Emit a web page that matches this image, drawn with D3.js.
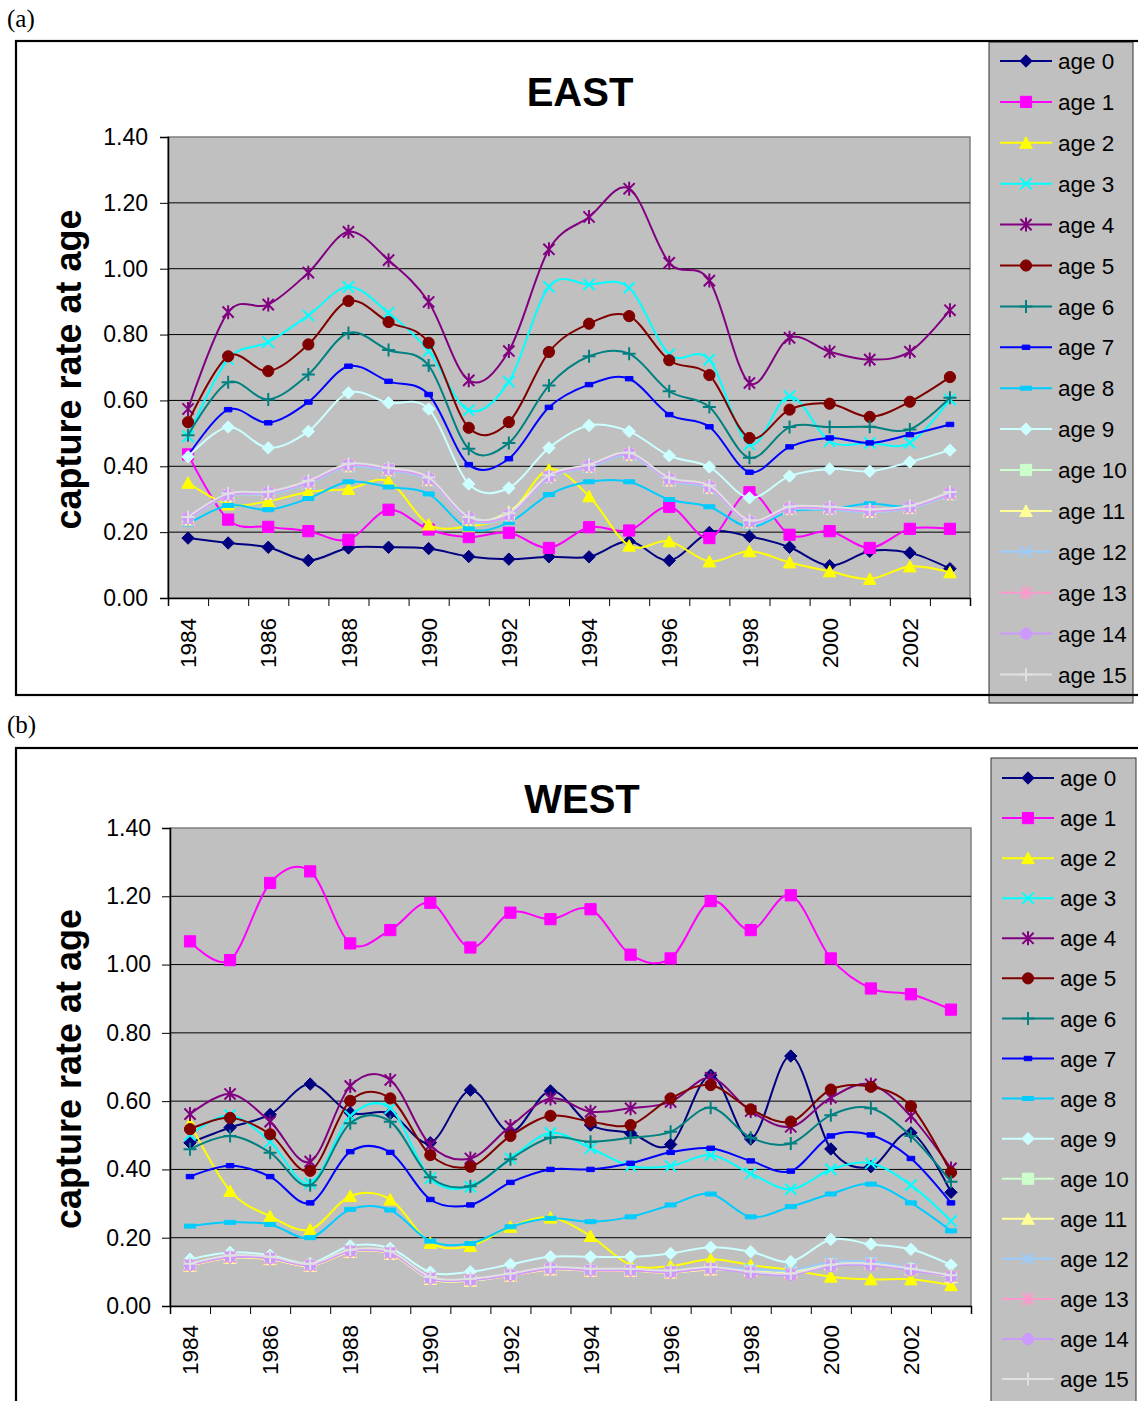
<!DOCTYPE html>
<html>
<head>
<meta charset="utf-8">
<script src="https://cdn.jsdelivr.net/npm/d3@7"></script>
<style>
  body { margin: 0; background: #fff; }
  svg { display: block; }
  text { font-family: "Liberation Sans", Arial, sans-serif; fill: #000; }
</style>
</head>
<body>
<svg id="chart" width="1138" height="1401"></svg>
<script>
// categories and labels
const years = [1984, 1985, 1986, 1987, 1988, 1989, 1990, 1991, 1992, 1993,
               1994, 1995, 1996, 1997, 1998, 1999, 2000, 2001, 2002, 2003]
const yTicks = [0, 0.2, 0.4, 0.6, 0.8, 1.0, 1.2, 1.4]
const ageNames = ["age 0", "age 1", "age 2", "age 3", "age 4", "age 5", "age 6", "age 7",
                  "age 8", "age 9", "age 10", "age 11", "age 12", "age 13", "age 14", "age 15"]

// EAST - capture rate at age
const east0 = [0.182, 0.167, 0.154, 0.114, 0.152, 0.154, 0.150, 0.126, 0.118, 0.125, 0.125, 0.172, 0.114, 0.199, 0.187, 0.154, 0.098, 0.142, 0.137, 0.089]
const east1 = [0.436, 0.238, 0.216, 0.203, 0.177, 0.268, 0.208, 0.185, 0.198, 0.152, 0.215, 0.205, 0.277, 0.182, 0.321, 0.192, 0.203, 0.152, 0.210, 0.210]
const east2 = [0.350, 0.284, 0.294, 0.322, 0.331, 0.354, 0.223, 0.218, 0.253, 0.390, 0.309, 0.159, 0.172, 0.111, 0.142, 0.108, 0.081, 0.058, 0.096, 0.078]
const east3 = [0.491, 0.725, 0.777, 0.858, 0.945, 0.866, 0.750, 0.570, 0.657, 0.945, 0.952, 0.942, 0.740, 0.724, 0.466, 0.613, 0.476, 0.471, 0.471, 0.603]
const east4 = [0.574, 0.868, 0.891, 0.988, 1.112, 1.026, 0.899, 0.661, 0.750, 1.059, 1.157, 1.243, 1.018, 0.964, 0.653, 0.790, 0.748, 0.724, 0.748, 0.874]
const east5 = [0.534, 0.734, 0.689, 0.770, 0.902, 0.838, 0.775, 0.517, 0.534, 0.747, 0.833, 0.856, 0.722, 0.677, 0.486, 0.572, 0.590, 0.550, 0.596, 0.671]
const east6 = [0.494, 0.655, 0.603, 0.679, 0.805, 0.753, 0.706, 0.453, 0.471, 0.645, 0.734, 0.742, 0.628, 0.580, 0.426, 0.519, 0.519, 0.520, 0.512, 0.608]
const east7 = [0.432, 0.572, 0.532, 0.595, 0.704, 0.658, 0.618, 0.405, 0.423, 0.579, 0.648, 0.666, 0.557, 0.520, 0.382, 0.459, 0.486, 0.471, 0.496, 0.527]
const east8 = [0.225, 0.281, 0.268, 0.302, 0.353, 0.337, 0.316, 0.210, 0.229, 0.314, 0.353, 0.353, 0.299, 0.277, 0.216, 0.263, 0.270, 0.286, 0.278, 0.316]
const east9 = [0.429, 0.519, 0.456, 0.506, 0.623, 0.593, 0.574, 0.346, 0.334, 0.456, 0.524, 0.506, 0.432, 0.398, 0.304, 0.370, 0.392, 0.385, 0.413, 0.449]
const east10 = [0.240, 0.312, 0.318, 0.350, 0.402, 0.390, 0.360, 0.240, 0.251, 0.367, 0.399, 0.436, 0.359, 0.336, 0.230, 0.271, 0.271, 0.263, 0.274, 0.316]
const east11 = [0.238, 0.310, 0.316, 0.349, 0.400, 0.388, 0.358, 0.238, 0.262, 0.372, 0.398, 0.434, 0.357, 0.334, 0.229, 0.270, 0.272, 0.262, 0.273, 0.315]
const east12 = [0.236, 0.309, 0.315, 0.347, 0.399, 0.386, 0.357, 0.236, 0.249, 0.364, 0.396, 0.433, 0.356, 0.333, 0.228, 0.268, 0.268, 0.261, 0.272, 0.313]
const east13 = [0.241, 0.312, 0.319, 0.351, 0.403, 0.390, 0.361, 0.241, 0.252, 0.368, 0.400, 0.437, 0.360, 0.337, 0.231, 0.272, 0.272, 0.264, 0.275, 0.317]
const east14 = [0.243, 0.314, 0.321, 0.353, 0.405, 0.392, 0.363, 0.243, 0.254, 0.370, 0.402, 0.439, 0.362, 0.339, 0.233, 0.274, 0.274, 0.266, 0.277, 0.319]
const east15 = [0.246, 0.317, 0.323, 0.356, 0.408, 0.395, 0.366, 0.246, 0.257, 0.373, 0.405, 0.441, 0.365, 0.342, 0.236, 0.277, 0.277, 0.269, 0.280, 0.322]

// WEST - capture rate at age
const west0 = [0.478, 0.523, 0.561, 0.650, 0.566, 0.564, 0.478, 0.632, 0.510, 0.630, 0.530, 0.506, 0.473, 0.676, 0.489, 0.732, 0.460, 0.408, 0.507, 0.333]
const west1 = [1.068, 1.013, 1.239, 1.273, 1.062, 1.101, 1.181, 1.050, 1.152, 1.133, 1.162, 1.029, 1.018, 1.186, 1.101, 1.203, 1.018, 0.930, 0.913, 0.868]
const west2 = [0.535, 0.337, 0.263, 0.224, 0.322, 0.312, 0.185, 0.176, 0.232, 0.259, 0.205, 0.120, 0.117, 0.137, 0.120, 0.105, 0.086, 0.078, 0.078, 0.061]
const west3 = [0.501, 0.559, 0.481, 0.359, 0.556, 0.579, 0.374, 0.349, 0.432, 0.507, 0.462, 0.410, 0.410, 0.442, 0.388, 0.342, 0.400, 0.418, 0.354, 0.249]
const west4 = [0.562, 0.621, 0.540, 0.423, 0.644, 0.662, 0.471, 0.432, 0.527, 0.608, 0.569, 0.579, 0.598, 0.668, 0.571, 0.525, 0.610, 0.649, 0.556, 0.403]
const west5 = [0.518, 0.551, 0.503, 0.396, 0.601, 0.608, 0.442, 0.408, 0.498, 0.557, 0.540, 0.530, 0.608, 0.647, 0.576, 0.540, 0.634, 0.642, 0.585, 0.391]
const west6 = [0.459, 0.498, 0.449, 0.354, 0.535, 0.540, 0.377, 0.351, 0.430, 0.493, 0.481, 0.493, 0.510, 0.581, 0.493, 0.476, 0.559, 0.579, 0.498, 0.364]
const west7 = [0.379, 0.411, 0.379, 0.302, 0.452, 0.450, 0.312, 0.296, 0.362, 0.400, 0.400, 0.418, 0.450, 0.462, 0.425, 0.395, 0.498, 0.501, 0.432, 0.302]
const west8 = [0.234, 0.245, 0.239, 0.200, 0.283, 0.281, 0.190, 0.183, 0.232, 0.257, 0.247, 0.261, 0.296, 0.328, 0.261, 0.291, 0.328, 0.357, 0.302, 0.220]
const west9 = [0.137, 0.157, 0.149, 0.125, 0.176, 0.169, 0.099, 0.100, 0.122, 0.144, 0.144, 0.144, 0.154, 0.172, 0.159, 0.130, 0.195, 0.181, 0.166, 0.120]
const west10 = [0.118, 0.142, 0.138, 0.118, 0.159, 0.154, 0.080, 0.075, 0.090, 0.108, 0.104, 0.104, 0.099, 0.108, 0.104, 0.100, 0.122, 0.124, 0.108, 0.085]
const west11 = [0.117, 0.141, 0.137, 0.117, 0.158, 0.153, 0.079, 0.074, 0.089, 0.107, 0.103, 0.103, 0.098, 0.107, 0.103, 0.099, 0.121, 0.123, 0.107, 0.084]
const west12 = [0.121, 0.145, 0.141, 0.121, 0.162, 0.157, 0.083, 0.078, 0.093, 0.112, 0.107, 0.107, 0.102, 0.112, 0.108, 0.104, 0.128, 0.130, 0.111, 0.088]
const west13 = [0.119, 0.143, 0.139, 0.119, 0.160, 0.155, 0.082, 0.077, 0.090, 0.109, 0.104, 0.104, 0.099, 0.109, 0.099, 0.094, 0.120, 0.122, 0.106, 0.087]
const west14 = [0.120, 0.144, 0.140, 0.120, 0.161, 0.156, 0.081, 0.076, 0.091, 0.110, 0.105, 0.105, 0.100, 0.110, 0.097, 0.091, 0.117, 0.120, 0.105, 0.086]
const west15 = [0.124, 0.148, 0.144, 0.124, 0.165, 0.160, 0.085, 0.080, 0.095, 0.114, 0.109, 0.109, 0.104, 0.114, 0.101, 0.095, 0.121, 0.124, 0.109, 0.090]

const eastSeries = [east0, east1, east2, east3, east4, east5, east6, east7,
                    east8, east9, east10, east11, east12, east13, east14, east15]
const westSeries = [west0, west1, west2, west3, west4, west5, west6, west7,
                    west8, west9, west10, west11, west12, west13, west14, west15]

// styles
const colors = ["#000080", "#FF00FF", "#FFFF00", "#00FFFF", "#800080", "#800000", "#008080", "#0000FF",
                "#00CCFF", "#CCFFFF", "#CCFFCC", "#FFFF99", "#99CCFF", "#FF99CC", "#CC99FF", "#E0E0E0"]
const shapes = ["diamond", "square", "triangle", "x", "star", "circle", "plus", "dashS",
                "dashL", "diamond", "square", "triangle", "x", "star", "circle", "plus"]

const svg = d3.select("#chart")

function markerPath(type) {
    switch (type) {
        case "diamond": return "M0,-6.2L6.2,0L0,6.2L-6.2,0Z"
        case "square": return "M-5.6,-5.6H5.6V5.6H-5.6Z"
        case "triangle": return "M0,-6L6.3,5.5L-6.3,5.5Z"
        case "circle": return "M5.6,0A5.6,5.6 0 1,1 -5.6,0A5.6,5.6 0 1,1 5.6,0Z"
        case "x": return "M-5.6,-5.6L5.6,5.6M-5.6,5.6L5.6,-5.6"
        case "star": return "M-5.6,-5.6L5.6,5.6M-5.6,5.6L5.6,-5.6M0,-7L0,7"
        case "plus": return "M-6.5,0H6.5M0,-6.5V6.5"
        case "dashS": return "M-3.8,-2.2H3.8V2.2H-3.8Z"
        case "dashL": return "M-5.5,-2H5.5V2H-5.5Z"
    }
}
const strokeOnly = t => t === "x" || t === "star" || t === "plus"

function styleMarker(sel, i) {
    const open = strokeOnly(shapes[i])
    sel.attr("d", markerPath(shapes[i]))
        .attr("fill", open ? "none" : colors[i])
        .attr("stroke", colors[i])
        .attr("stroke-width", open ? 2 : 1)
}

function drawPanel(cfg, series) {
    let g = svg.append("g")

    // outer frame
    g.append("rect")
        .attr("x", 16).attr("y", cfg.frameTop)
        .attr("width", 1200).attr("height", cfg.frameH)
        .attr("fill", "#fff")

    g.append("text")
        .attr("x", 7).attr("y", cfg.letterY)
        .style("font-family", '"Liberation Serif", "Times New Roman", serif')
        .attr("font-size", 25)
        .text(cfg.letter)

    let x = d3.scaleBand().domain(years).range([cfg.left, cfg.right])
    let xEdge = d3.scaleLinear().domain([0, years.length]).range([cfg.left, cfg.right])
    let y = d3.scaleLinear().domain([0, 1.4]).range([cfg.bottom, cfg.top])
    let px = i => x(years[i]) + x.bandwidth() / 2

    // plot area
    g.append("rect")
        .attr("x", cfg.left).attr("y", cfg.top)
        .attr("width", cfg.right - cfg.left).attr("height", cfg.bottom - cfg.top)
        .attr("fill", "#C0C0C0").attr("stroke", "#808080").attr("stroke-width", 1.5)

    g.append("g").selectAll("line")
        .data(yTicks.filter(d => d > 0 && d < 1.4))
        .join("line")
        .attr("x1", cfg.left).attr("x2", cfg.right)
        .attr("y1", d => y(d)).attr("y2", d => y(d))
        .attr("stroke", "#000").attr("stroke-width", 1)

    // y axis
    let ya = g.append("g")
        .attr("transform", `translate(${cfg.left},0)`)
        .call(d3.axisLeft(y).tickValues(yTicks).tickFormat(d3.format(".2f")).tickSize(8).tickPadding(cfg.yPad))
    ya.select(".domain").attr("stroke", "#000").attr("stroke-width", 1.5)
    ya.selectAll(".tick line").attr("stroke", "#000")
    ya.selectAll("text").attr("font-size", 23).attr("font-family", null)

    // x axis: ticks on category edges, labels every other year
    let xa = g.append("g")
        .attr("transform", `translate(0,${cfg.bottom})`)
        .call(d3.axisBottom(xEdge).tickValues(d3.range(0, years.length + 1)).tickFormat("").tickSize(8))
    xa.select(".domain").attr("stroke", "#000").attr("stroke-width", 1.5)
    xa.selectAll(".tick line").attr("stroke", "#000")

    let xl = g.append("g")
        .attr("transform", `translate(0,${cfg.bottom})`)
        .call(d3.axisBottom(x).tickValues(years.filter(d => d % 2 === 0)).tickSize(0))
    xl.select(".domain").remove()
    xl.selectAll("text")
        .attr("font-size", 22.5).attr("font-family", null)
        .attr("x", -cfg.xPad).attr("y", 0).attr("dy", "0.36em")
        .attr("text-anchor", "end")
        .attr("transform", "rotate(-90)")

    // series
    let line = d3.line()
        .x((d, i) => px(i))
        .y(d => y(d))
        .curve(d3.curveCatmullRom.alpha(0))

    series.forEach((vals, k) => {
        let sg = g.append("g")
        sg.append("path")
            .attr("d", line(vals))
            .attr("fill", "none")
            .attr("stroke", colors[k])
            .attr("stroke-width", 2)
        sg.selectAll("path.m").data(vals).join("path")
            .attr("class", "m")
            .attr("transform", (d, i) => `translate(${px(i)},${y(d)})`)
            .call(styleMarker, k)
    })

    // titles
    g.append("text")
        .attr("x", cfg.titleX).attr("y", cfg.titleY)
        .attr("text-anchor", "middle")
        .attr("font-size", 40).attr("font-weight", "bold")
        .text(cfg.title)

    g.append("text")
        .attr("transform", `translate(68,${(cfg.top + cfg.bottom) / 2 + 2}) rotate(-90)`)
        .attr("text-anchor", "middle").attr("dy", "0.35em")
        .attr("font-size", 36).attr("font-weight", "bold")
        .text("capture rate at age")

    // legend
    let lg = g.append("g")
    lg.append("rect")
        .attr("x", cfg.legX).attr("y", cfg.legY)
        .attr("width", cfg.legW).attr("height", cfg.legH)
        .attr("fill", "#C0C0C0").attr("stroke", "#333").attr("stroke-width", 1)
    ageNames.forEach((name, k) => {
        let cy = cfg.legFirst + k * cfg.legStep
        let item = lg.append("g").attr("transform", `translate(${cfg.legX},${cy})`)
        item.append("line")
            .attr("x1", 11).attr("x2", 63)
            .attr("stroke", colors[k]).attr("stroke-width", 2)
        item.append("path")
            .attr("transform", "translate(37,0)")
            .call(styleMarker, k)
        item.append("text")
            .attr("x", 69).attr("dy", "0.36em")
            .attr("font-size", 22.5)
            .text(name)
    })

    // frame border on top
    g.append("rect")
        .attr("x", 16).attr("y", cfg.frameTop)
        .attr("width", 1200).attr("height", cfg.frameH)
        .attr("fill", "none").attr("stroke", "#000").attr("stroke-width", 2.2)
}

drawPanel({
    letter: "(a)", letterY: 27,
    frameTop: 41, frameH: 654,
    left: 168, right: 970, top: 137, bottom: 598,
    yPad: 12, xPad: 20,
    title: "EAST", titleX: 580, titleY: 106,
    legX: 989, legY: 42, legW: 144, legH: 661,
    legFirst: 61, legStep: 40.9
}, eastSeries)

drawPanel({
    letter: "(b)", letterY: 733,
    frameTop: 748, frameH: 800,
    left: 170, right: 971, top: 828, bottom: 1306,
    yPad: 11, xPad: 19,
    title: "WEST", titleX: 582, titleY: 813,
    legX: 991, legY: 758, legW: 145, legH: 700,
    legFirst: 778, legStep: 40.07
}, westSeries)
</script>
</body>
</html>
